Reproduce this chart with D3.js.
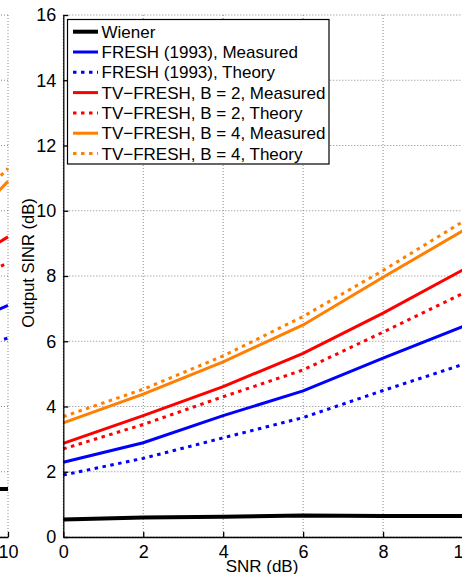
<!DOCTYPE html>
<html>
<head>
<meta charset="UTF-8">
<script src="https://d3js.org/d3.v7.min.js"></script>
<style>
  body { margin: 0; background: #fff; }
  text { font-family: "Liberation Sans", Arial, sans-serif; fill: #000; }
</style>
</head>
<body>
<svg id="chart" width="462" height="574"></svg>
<script>
// main panel data
const snr = [0, 2, 4, 6, 8, 10];
const wiener      = [0.54, 0.60, 0.62, 0.66, 0.64, 0.64];
const freshMeas   = [2.29, 2.89, 3.72, 4.48, 5.48, 6.45];
const freshTheory = [1.90, 2.41, 3.04, 3.66, 4.49, 5.29];
const tv2Meas     = [2.87, 3.72, 4.61, 5.63, 6.86, 8.19];
const tv2Theory   = [2.70, 3.45, 4.30, 5.12, 6.28, 7.47];
const tv4Meas     = [3.50, 4.38, 5.37, 6.50, 7.96, 9.39];
const tv4Theory   = [3.69, 4.53, 5.55, 6.76, 8.17, 9.67];

// neighbouring panel, only its right edge is visible
const leftSnr = [8, 10];
const leftWiener      = [1.47, 1.47];
const leftFreshMeas   = [6.0, 7.1];
const leftFreshTheory = [5.3, 6.1];
const leftTv2Meas     = [7.7, 9.2];
const leftTv2Theory   = [7.3, 8.4];
const leftTv4Meas     = [8.4, 10.9];
const leftTv4Theory   = [8.8, 11.3];

const xTicks = [0, 2, 4, 6, 8, 10];
const yTicks = [0, 2, 4, 6, 8, 10, 12, 14, 16];

const legendLabels = ["Wiener", "FRESH (1993), Measured", "FRESH (1993), Theory",
  "TV\u2212FRESH, B = 2, Measured", "TV\u2212FRESH, B = 2, Theory",
  "TV\u2212FRESH, B = 4, Measured", "TV\u2212FRESH, B = 4, Theory"];
const colors = ["#000000", "#0000ff", "#0000ff", "#ff0000", "#ff0000", "#ff7f00", "#ff7f00"];
const dotted = [false, false, true, false, true, false, true];

const svg = d3.select("#chart");
const plotTop = 15, plotBottom = 537;

const y = d3.scaleLinear().domain([0, 16]).range([plotBottom, plotTop]);
const x = d3.scaleLinear().domain([0, 10]).range([63.3, 463]);
const xl = d3.scaleLinear().domain([0, 10]).range([8 - 400, 8]);

function drawPanel(xs, xvals, series, labelTicks) {
  const g = svg.append("g");
  const [x0, x1] = xs.range();
  // grid
  g.selectAll(".gx").data(xTicks).enter().append("line")
    .attr("x1", d => xs(d)).attr("x2", d => xs(d))
    .attr("y1", plotTop).attr("y2", plotBottom)
    .attr("stroke", "#888").attr("stroke-width", 1).attr("stroke-dasharray", "1,2");
  g.selectAll(".gy").data(yTicks).enter().append("line")
    .attr("x1", x0).attr("x2", x1)
    .attr("y1", d => y(d)).attr("y2", d => y(d))
    .attr("stroke", "#888").attr("stroke-width", 1).attr("stroke-dasharray", "1,2");

  // lines
  const line = d3.line().x((d, i) => xs(xvals[i])).y(d => y(d));
  series.forEach((s, k) => {
    g.append("path").datum(s)
      .attr("d", line)
      .attr("fill", "none")
      .attr("stroke", colors[k])
      .attr("stroke-width", k === 0 ? 4 : 3)
      .attr("stroke-dasharray", dotted[k] ? "3.5,4.5" : null);
  });

  // bottom axis
  const ax = g.append("g").attr("transform", "translate(0," + plotBottom + ")")
    .call(d3.axisBottom(xs).tickValues(labelTicks).tickSizeInner(-5).tickSizeOuter(0).tickPadding(8));
  ax.select(".domain").attr("stroke-width", 1.3);
  ax.selectAll(".tick line").attr("stroke-width", 1.3);
  ax.selectAll("text").attr("font-size", 18);
  return g;
}

// only the last tick of the cut-off panel is on screen
drawPanel(xl, leftSnr,
  [leftWiener, leftFreshMeas, leftFreshTheory, leftTv2Meas, leftTv2Theory, leftTv4Meas, leftTv4Theory], [10]);

const main = drawPanel(x, snr,
  [wiener, freshMeas, freshTheory, tv2Meas, tv2Theory, tv4Meas, tv4Theory], xTicks);

// left axis of the main panel
const ay = main.append("g").attr("transform", "translate(63.3,0)")
  .call(d3.axisLeft(y).tickValues(yTicks).tickSizeInner(-5).tickSizeOuter(0).tickPadding(7));
ay.select(".domain").attr("stroke-width", 1.3);
ay.selectAll(".tick line").attr("stroke-width", 1.3);
ay.selectAll("text").attr("font-size", 18);

// axis titles
svg.append("text").attr("x", 262).attr("y", 572)
  .attr("text-anchor", "middle").attr("font-size", 17).text("SNR (dB)");
svg.append("text").attr("transform", "translate(34,263) rotate(-90)")
  .attr("text-anchor", "middle").attr("font-size", 16.5).text("Output SINR (dB)");

// legend
const lg = svg.append("g");
lg.append("rect").attr("x", 67.5).attr("y", 19.5).attr("width", 261.5).attr("height", 144.5)
  .attr("fill", "#fff").attr("stroke", "#000").attr("stroke-width", 1.2);
legendLabels.forEach((lab, k) => {
  const cy = 31.7 + k * 20.3;
  lg.append("line").attr("x1", 73).attr("x2", 98).attr("y1", cy).attr("y2", cy)
    .attr("stroke", colors[k]).attr("stroke-width", k === 0 ? 4 : 3)
    .attr("stroke-dasharray", dotted[k] ? "3.5,4.5" : null);
  lg.append("text").attr("x", 101.5).attr("y", cy + 6)
    .attr("font-size", 17).text(lab);
});
</script>
</body>
</html>
